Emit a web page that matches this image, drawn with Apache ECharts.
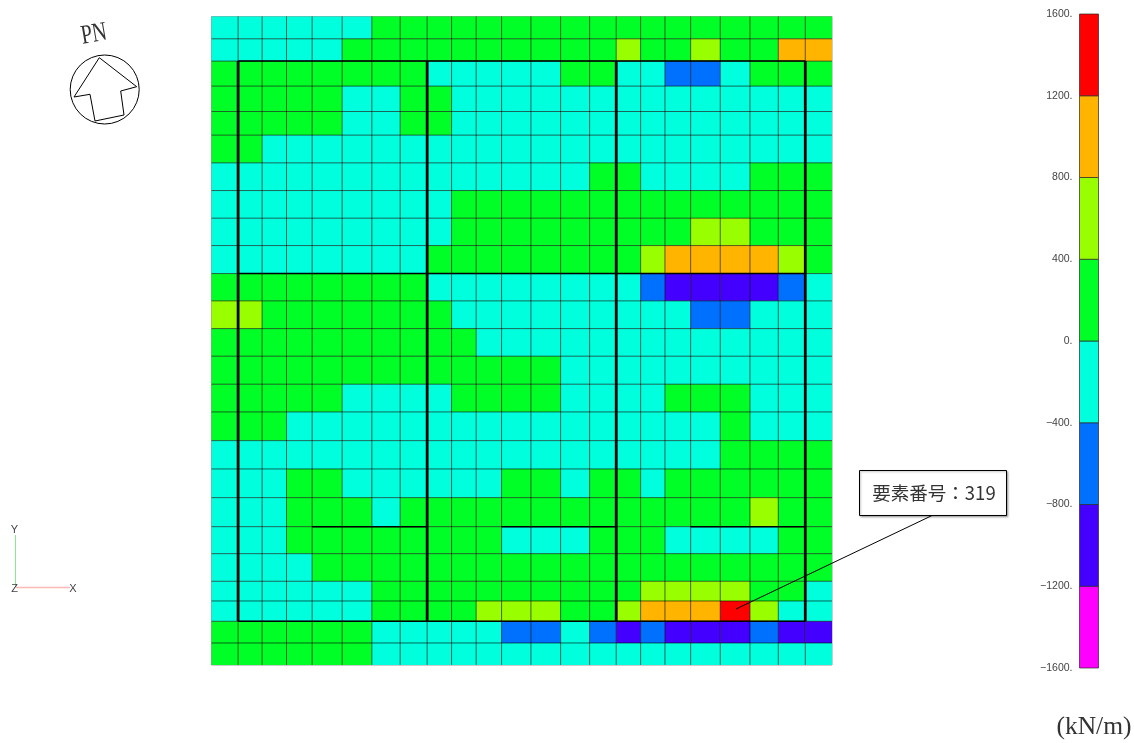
<!DOCTYPE html>
<html>
<head>
<meta charset="utf-8">
<title>要素番号</title>
<style>
html, body { margin: 0; padding: 0; background: #fff; }
#main { width: 1134px; height: 743px; }
</style>
<script src="https://cdn.jsdelivr.net/npm/echarts@6/dist/echarts.min.js"></script>
</head>
<body>
<div id="main"></div>
<script>
// mesh spacing, left to right and top to bottom
var colWidths = [26.6,24,24.4,25.6,30,29.7,28.3,27,24.4,24.6,25.4,29.3,29.7,29,26.6,24.4,24.3,25.7,29.6,29.7,28.3,27,26.7];
var rowHeights = [22.3,22.3,25,25.4,23.6,27.7,27.7,27.6,27.4,28,27.3,27.7,27.6,28,27.7,28.7,28.3,28.7,29,27,27.6,19.7,20.3,21.7,22];

// legend bands (kN/m)
var bandEdges = [-1600,-1200,-800,-400,0,400,800,1200,1600];
var bandColors = ['#ff00ff','#4400ff','#0070ff','#00ffdd','#00ff26','#99ff00','#ffb400','#ff0000'];

// element values, one line per mesh row. read from the colour, so each is the middle of its band
var elementValues = [
	[-200,-200,-200,-200,-200,-200,200,200,200,200,200,200,200,200,200,200,200,200,200,200,200,200,200],
	[-200,-200,-200,-200,-200,200,200,200,200,200,200,200,200,200,200,600,200,200,600,200,200,1000,1000],
	[200,200,200,200,200,200,200,200,-200,-200,-200,-200,-200,200,200,-200,-200,-600,-600,-200,200,200,200],
	[200,200,200,200,200,-200,-200,200,200,-200,-200,-200,-200,-200,-200,-200,-200,-200,-200,-200,-200,-200,-200],
	[200,200,200,200,200,-200,-200,200,200,-200,-200,-200,-200,-200,-200,-200,-200,-200,-200,-200,-200,-200,-200],
	[200,200,-200,-200,-200,-200,-200,-200,-200,-200,-200,-200,-200,-200,-200,-200,-200,-200,-200,-200,-200,-200,-200],
	[-200,-200,-200,-200,-200,-200,-200,-200,-200,-200,-200,-200,-200,-200,200,200,-200,-200,-200,-200,200,200,200],
	[-200,-200,-200,-200,-200,-200,-200,-200,-200,200,200,200,200,200,200,200,200,200,200,200,200,200,200],
	[-200,-200,-200,-200,-200,-200,-200,-200,-200,200,200,200,200,200,200,200,200,200,600,600,200,200,200],
	[-200,-200,-200,-200,-200,-200,-200,-200,200,200,200,200,200,200,200,200,600,1000,1000,1000,1000,600,200],
	[200,200,200,200,200,200,200,200,-200,-200,-200,-200,-200,-200,-200,-200,-600,-1000,-1000,-1000,-1000,-600,-200],
	[600,600,200,200,200,200,200,200,200,-200,-200,-200,-200,-200,-200,-200,-200,-200,-600,-600,-200,-200,-200],
	[200,200,200,200,200,200,200,200,200,200,-200,-200,-200,-200,-200,-200,-200,-200,-200,-200,-200,-200,-200],
	[200,200,200,200,200,200,200,200,200,200,200,200,200,-200,-200,-200,-200,-200,-200,-200,-200,-200,-200],
	[200,200,200,200,200,-200,-200,-200,-200,200,200,200,200,-200,-200,-200,-200,200,200,200,-200,-200,-200],
	[200,200,200,-200,-200,-200,-200,-200,-200,-200,-200,-200,-200,-200,-200,-200,-200,-200,-200,200,-200,-200,-200],
	[-200,-200,-200,-200,-200,-200,-200,-200,-200,-200,-200,-200,-200,-200,-200,-200,-200,-200,-200,200,200,200,200],
	[-200,-200,-200,200,200,-200,-200,-200,-200,-200,-200,200,200,-200,200,200,-200,200,200,200,200,200,200],
	[-200,-200,-200,200,200,200,-200,200,200,200,200,200,200,200,200,200,200,200,200,200,600,200,200],
	[-200,-200,-200,200,200,200,200,200,200,200,200,-200,-200,-200,200,200,200,-200,-200,-200,-200,200,200],
	[-200,-200,-200,-200,200,200,200,200,200,200,200,200,200,200,200,200,200,200,200,200,200,200,200],
	[-200,-200,-200,-200,-200,-200,200,200,200,200,200,200,200,200,200,200,600,600,600,600,200,200,-200],
	[-200,-200,-200,-200,-200,-200,200,200,200,200,600,600,600,200,200,600,1000,1000,1000,1400,600,-200,-200],
	[200,200,200,200,200,200,-200,-200,-200,-200,-200,-600,-600,-200,-600,-1000,-600,-1000,-1000,-1000,-600,-1000,-1000],
	[200,200,200,200,200,200,-200,-200,-200,-200,-200,-200,-200,-200,-200,-200,-200,-200,-200,-200,-200,-200,-200]
];

// wall lines as mesh line numbers: col from, row from, col to, row to
var wallLines = [
	[1,2,1,23],[8,2,8,23],[15,2,15,23],[22,2,22,23],
	[1,2,22,2],[1,10,22,10],[1,23,22,23],
	[4,19,8,19],[11,19,15,19],[18,19,22,19]
];

function cumulate(list) {
	var out = [0];
	for (var i = 0; i < list.length; i++) {
		out.push(out[i] + list[i]);
	}
	return out;
}

var xEdges = cumulate(colWidths);
var yEdges = cumulate(rowHeights);

function bandColor(v) {
	for (var i = 0; i < bandColors.length; i++) {
		if (v < bandEdges[i + 1]) return bandColors[i];
	}
	return bandColors[bandColors.length - 1];
}

var cellData = [];
for (var r = 0; r < elementValues.length; r++) {
	for (var c = 0; c < elementValues[r].length; c++) {
		cellData.push([c, r, elementValues[r][c]]);
	}
}

var meshLines = [];
for (var i = 1; i < colWidths.length; i++) meshLines.push([i, 0, i, rowHeights.length]);
for (var j = 1; j < rowHeights.length; j++) meshLines.push([0, j, colWidths.length, j]);

var bandData = [];
for (var b = 0; b < bandColors.length; b++) bandData.push([bandEdges[b], bandEdges[b + 1]]);

function renderCell(params, api) {
	var c = api.value(0), r = api.value(1);
	var p0 = api.coord([xEdges[c], yEdges[r]]);
	var p1 = api.coord([xEdges[c + 1], yEdges[r + 1]]);
	return {
		type: 'rect',
		shape: { x: p0[0], y: p0[1], width: p1[0] - p0[0], height: p1[1] - p0[1] },
		style: { fill: bandColor(api.value(2)) }
	};
}

function lineRenderer(color, widthV, widthH) {
	return function (params, api) {
		var p0 = api.coord([xEdges[api.value(0)], yEdges[api.value(1)]]);
		var p1 = api.coord([xEdges[api.value(2)], yEdges[api.value(3)]]);
		return {
			type: 'line',
			shape: { x1: p0[0], y1: p0[1], x2: p1[0], y2: p1[1] },
			style: { stroke: color, lineWidth: api.value(0) == api.value(2) ? widthV : widthH }
		};
	};
}

function renderBand(params, api) {
	var p0 = api.coord([0, api.value(1)]);
	var p1 = api.coord([1, api.value(0)]);
	return {
		type: 'rect',
		shape: { x: p0[0], y: p0[1], width: p1[0] - p0[0], height: p1[1] - p0[1] },
		style: { fill: bandColors[params.dataIndex], stroke: 'rgba(40,40,40,0.7)', lineWidth: 1 }
	};
}

var myChart = echarts.init(document.getElementById('main'));

var option = {
	backgroundColor: '#fff',
	animation: false,
	grid: [
		{ left: 211.5, top: 16.5, width: 620.5, height: 648.5, show: true, borderColor: '#999', borderWidth: 1, backgroundColor: 'transparent' },
		{ left: 1079.5, top: 14, width: 19, height: 654 }
	],
	xAxis: [
		{ type: 'value', gridIndex: 0, min: 0, max: xEdges[xEdges.length - 1], show: false },
		{ type: 'value', gridIndex: 1, min: 0, max: 1, show: false }
	],
	yAxis: [
		{ type: 'value', gridIndex: 0, min: 0, max: yEdges[yEdges.length - 1], inverse: true, show: false },
		{
			type: 'value', gridIndex: 1, min: -1600, max: 1600, interval: 400,
			axisLine: { show: false }, axisTick: { show: false }, splitLine: { show: false },
			axisLabel: {
				margin: 7, fontSize: 10.5, color: '#444', fontFamily: 'Liberation Sans', padding: [2, 0, 0, 0],
				formatter: function (v) { return String(v).replace('-', '\u2212') + '.'; }
			}
		}
	],
	series: [
		{ type: 'custom', xAxisIndex: 0, yAxisIndex: 0, data: cellData, renderItem: renderCell, silent: true, z: 2 },
		{ type: 'custom', xAxisIndex: 0, yAxisIndex: 0, data: meshLines, renderItem: lineRenderer('rgba(0,0,0,0.6)', 1, 1), silent: true, z: 3 },
		{ type: 'custom', xAxisIndex: 0, yAxisIndex: 0, data: wallLines, renderItem: lineRenderer('#000', 2.8, 1.5), silent: true, z: 4 },
		{ type: 'custom', xAxisIndex: 1, yAxisIndex: 1, data: bandData, renderItem: renderBand, silent: true, z: 2 }
	],
	graphic: [
		// north mark
		{ type: 'circle', z: 100, shape: { cx: 104.7, cy: 89.5, r: 34.5 }, style: { fill: 'none', stroke: '#000', lineWidth: 1 } },
		{ type: 'polygon', z: 100, shape: { points: [[99.3,57.7],[136.7,86.7],[120.7,91],[124,115],[95,121],[90,94.3],[74,97]] }, style: { fill: 'none', stroke: '#000', lineWidth: 1 } },
		{ type: 'text', z: 100, x: 94, y: 34.5, rotation: 0.17, scaleX: 0.75, style: { text: 'PN', font: '27px "Liberation Serif"', fill: '#333', align: 'center', verticalAlign: 'middle' } },
		// axis triad
		{ type: 'line', z: 100, shape: { x1: 15.5, y1: 535, x2: 15.5, y2: 587 }, style: { stroke: '#8fe88f', lineWidth: 1 } },
		{ type: 'line', z: 100, shape: { x1: 16, y1: 587.5, x2: 70, y2: 587.5 }, style: { stroke: '#ffb8b8', lineWidth: 1.5 } },
		{ type: 'text', z: 100, x: 14.5, y: 530, style: { text: 'Y', font: '11px "Liberation Sans"', fill: '#444', align: 'center', verticalAlign: 'middle' } },
		{ type: 'text', z: 100, x: 14.5, y: 589, style: { text: 'Z', font: '11px "Liberation Sans"', fill: '#444', align: 'center', verticalAlign: 'middle' } },
		{ type: 'text', z: 100, x: 73, y: 588.5, style: { text: 'X', font: '11px "Liberation Sans"', fill: '#444', align: 'center', verticalAlign: 'middle' } },
		// callout for element 319
		{ type: 'line', z: 100, shape: { x1: 931.7, y1: 515.7, x2: 736, y2: 609 }, style: { stroke: '#000', lineWidth: 1 } },
		{ type: 'rect', z: 100, shape: { x: 859.5, y: 470.5, width: 147, height: 45 }, style: { fill: '#fff', stroke: '#000', lineWidth: 1, shadowColor: 'rgba(0,0,0,0.3)', shadowBlur: 2, shadowOffsetX: 1, shadowOffsetY: 1 } },
		{ type: 'text', z: 101, x: 934, y: 493, style: { text: '要素番号：319', font: '18.5px "Noto Sans CJK JP"', fill: '#333', align: 'center', verticalAlign: 'middle' } },
		// unit
		{ type: 'text', z: 100, x: 1094, y: 727, style: { text: '(kN/m)', font: '25.5px "Liberation Serif"', fill: '#333', align: 'center', verticalAlign: 'middle' } }
	]
};

myChart.setOption(option);
</script>
</body>
</html>
